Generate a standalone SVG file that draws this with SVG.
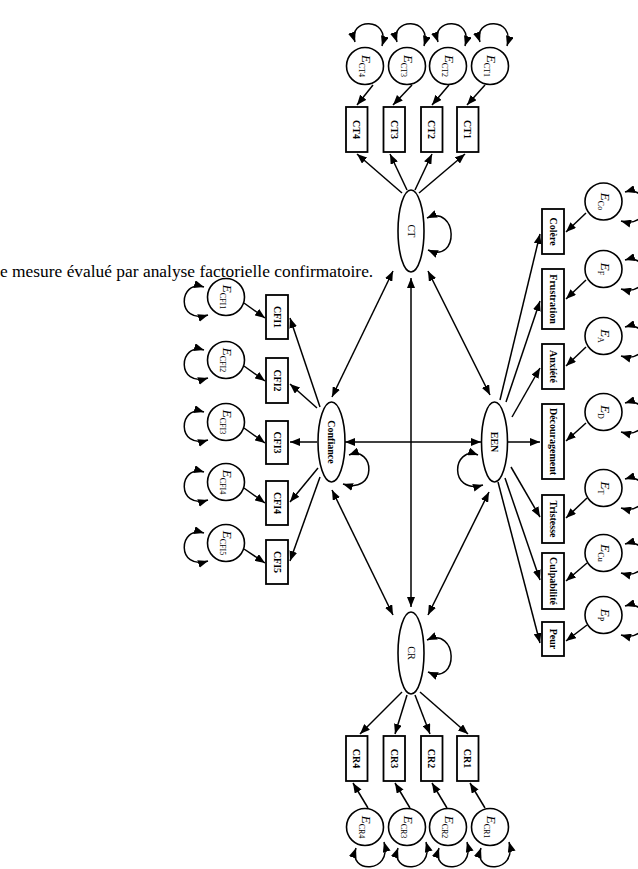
<svg xmlns="http://www.w3.org/2000/svg" width="638" height="869" viewBox="0 0 638 869">
<style>
text{font-family:"Liberation Serif","Times New Roman",serif;fill:#000}
.box rect{fill:#fff;stroke:#000;stroke-width:1.8}
.lat ellipse{fill:#fff;stroke:#000;stroke-width:1.6}
.err circle{fill:#fff;stroke:#000;stroke-width:1.6}
.bt{font-size:10px;font-weight:bold;text-anchor:middle}
.lt{font-size:10px;text-anchor:middle}
.et{font-size:13px;text-anchor:middle}
.et .e{font-style:italic}
.et .s{font-size:8px}
#conn line,#conn path{stroke:#000;stroke-width:1.5;fill:none}
.a{marker-end:url(#ah)}
.d{marker-start:url(#ah);marker-end:url(#ah)}
</style>
<defs>
<marker id="ah" viewBox="0 0 10 8" refX="10" refY="4" markerWidth="10" markerHeight="8" markerUnits="userSpaceOnUse" orient="auto-start-reverse"><path d="M0,0 L10,4 L0,8 z" fill="#000"/></marker>
</defs>
<rect width="638" height="869" fill="#fff"/>
<text x="0" y="277" font-size="17.4">e mesure évalué par analyse factorielle confirmatoire.</text>

<g id="conn">
<line class="d" x1="393" y1="271" x2="332" y2="397"/>
<line class="d" x1="428" y1="271" x2="490" y2="395"/>
<line class="d" x1="411" y1="278" x2="411" y2="607"/>
<line class="d" x1="345" y1="442" x2="481" y2="442"/>
<line class="d" x1="332" y1="490" x2="393" y2="615"/>
<line class="d" x1="489" y1="492" x2="428" y2="615"/>
<path class="d" d="M427,218 C458,204 460,264 428,250"/>
<path class="d" d="M427,640 C458,626 460,686 428,672"/>
<path class="d" d="M349,455 C375,445 378,495 343,484"/>
<path class="d" d="M478,455 C452,445 448,495 483,485"/>
<line class="a" x1="402" y1="193" x2="357" y2="154"/>
<line class="a" x1="407" y1="190" x2="390" y2="154"/>
<line class="a" x1="415" y1="190" x2="432" y2="154"/>
<line class="a" x1="419" y1="193" x2="465" y2="154"/>
<line class="a" x1="402" y1="692" x2="360" y2="734"/>
<line class="a" x1="407" y1="695" x2="395" y2="734"/>
<line class="a" x1="415" y1="695" x2="430" y2="734"/>
<line class="a" x1="420" y1="692" x2="468" y2="734"/>
<line class="a" x1="320" y1="407" x2="290" y2="318"/>
<line class="a" x1="317" y1="408" x2="290" y2="384"/>
<line class="a" x1="317" y1="442" x2="290" y2="442"/>
<line class="a" x1="318" y1="468" x2="290" y2="502"/>
<line class="a" x1="320" y1="477" x2="290" y2="561"/>
<line class="a" x1="500" y1="400" x2="540" y2="234"/>
<line class="a" x1="506" y1="402" x2="540" y2="301"/>
<line class="a" x1="512" y1="417" x2="540" y2="368"/>
<line class="a" x1="508" y1="442" x2="540" y2="442"/>
<line class="a" x1="511" y1="467" x2="540" y2="517"/>
<line class="a" x1="505" y1="478" x2="540" y2="580"/>
<line class="a" x1="498" y1="482" x2="540" y2="643"/>
<line class="a" x1="373" y1="85" x2="357" y2="105"/>
<line class="a" x1="412" y1="85" x2="393" y2="105"/>
<line class="a" x1="449" y1="85" x2="432" y2="105"/>
<line class="a" x1="485" y1="85" x2="467" y2="105"/>
<line class="a" x1="368" y1="808" x2="353" y2="783"/>
<line class="a" x1="410" y1="808" x2="395" y2="783"/>
<line class="a" x1="447" y1="808" x2="432" y2="783"/>
<line class="a" x1="485" y1="808" x2="470" y2="783"/>
<line class="a" x1="244" y1="303" x2="265" y2="318"/>
<line class="a" x1="244" y1="366" x2="265" y2="381"/>
<line class="a" x1="244" y1="428" x2="265" y2="443"/>
<line class="a" x1="244" y1="488" x2="265" y2="503"/>
<line class="a" x1="244" y1="549" x2="265" y2="563"/>
<line class="a" x1="586" y1="213" x2="566" y2="232"/>
<line class="a" x1="586" y1="280" x2="566" y2="299"/>
<line class="a" x1="586" y1="347" x2="566" y2="366"/>
<line class="a" x1="586" y1="423" x2="566" y2="441"/>
<line class="a" x1="587" y1="498" x2="566" y2="518"/>
<line class="a" x1="587" y1="563" x2="566" y2="581"/>
<line class="a" x1="587" y1="625" x2="566" y2="641"/>
<path class="d" d="M355,42 C347,18 391,16 382,46"/>
<path class="d" d="M397,42 C389,18 433,16 424,46"/>
<path class="d" d="M438,42 C430,18 474,16 465,46"/>
<path class="d" d="M480,42 C472,18 516,16 507,46"/>
<path class="d" d="M356,848 C347,874 393,874 384,842"/>
<path class="d" d="M398,848 C389,874 435,874 426,842"/>
<path class="d" d="M439,848 C430,874 476,874 467,842"/>
<path class="d" d="M481,848 C472,874 518,874 509,842"/>
<path class="d" d="M204,287 C178,279 176,325 208,315"/>
<path class="d" d="M204,350 C178,342 176,388 208,378"/>
<path class="d" d="M204,412 C178,404 176,450 208,440"/>
<path class="d" d="M204,472 C178,464 176,510 208,500"/>
<path class="d" d="M204,533 C178,525 176,571 208,561"/>
<path class="d" d="M625,192 C651,184 653,230 621,221"/>
<path class="d" d="M625,260 C651,252 653,298 621,289"/>
<path class="d" d="M625,327 C651,319 653,365 621,356"/>
<path class="d" d="M625,403 C651,395 653,441 621,432"/>
<path class="d" d="M625,479 C651,471 653,517 621,508"/>
<path class="d" d="M625,544 C651,536 653,582 621,573"/>
<path class="d" d="M625,606 C651,598 653,644 621,635"/>
</g>

<g id="CT" class="lat"><ellipse cx="411" cy="231" rx="13" ry="41"/><text class="lt" transform="translate(411,231) rotate(90)" y="3.5">CT</text></g>
<g id="Confiance" class="lat"><ellipse cx="331.5" cy="442" rx="13.5" ry="40"/><text class="bt" transform="translate(331.5,442) rotate(90)" y="3.5">Confiance</text></g>
<g id="EEN" class="lat"><ellipse cx="494.5" cy="442" rx="13" ry="40"/><text class="bt" transform="translate(494.5,442) rotate(90)" y="3.5">EEN</text></g>
<g id="CR" class="lat"><ellipse cx="411" cy="653" rx="13" ry="41"/><text class="lt" transform="translate(411,653) rotate(90)" y="3.5">CR</text></g>

<g id="CT4" class="box"><rect x="346" y="107" width="21.5" height="45"/><text class="bt" transform="translate(356.75,129.5) rotate(90)" y="3.5">CT4</text></g>
<g id="CT3" class="box"><rect x="383.5" y="107" width="21.5" height="45"/><text class="bt" transform="translate(394.25,129.5) rotate(90)" y="3.5">CT3</text></g>
<g id="CT2" class="box"><rect x="421" y="107" width="21.5" height="45"/><text class="bt" transform="translate(431.75,129.5) rotate(90)" y="3.5">CT2</text></g>
<g id="CT1" class="box"><rect x="457" y="107" width="21.5" height="45"/><text class="bt" transform="translate(467.75,129.5) rotate(90)" y="3.5">CT1</text></g>
<g id="CR4" class="box"><rect x="346" y="736" width="21.5" height="45"/><text class="bt" transform="translate(356.75,758.5) rotate(90)" y="3.5">CR4</text></g>
<g id="CR3" class="box"><rect x="383.5" y="736" width="21.5" height="45"/><text class="bt" transform="translate(394.25,758.5) rotate(90)" y="3.5">CR3</text></g>
<g id="CR2" class="box"><rect x="421" y="736" width="21.5" height="45"/><text class="bt" transform="translate(431.75,758.5) rotate(90)" y="3.5">CR2</text></g>
<g id="CR1" class="box"><rect x="457" y="736" width="21.5" height="45"/><text class="bt" transform="translate(467.75,758.5) rotate(90)" y="3.5">CR1</text></g>
<g id="CFI1" class="box"><rect x="266" y="295" width="22" height="44"/><text class="bt" transform="translate(277,317) rotate(90)" y="3.5">CFI1</text></g>
<g id="CFI2" class="box"><rect x="266" y="358" width="22" height="45"/><text class="bt" transform="translate(277,380.5) rotate(90)" y="3.5">CFI2</text></g>
<g id="CFI3" class="box"><rect x="266" y="421" width="22" height="43"/><text class="bt" transform="translate(277,442.5) rotate(90)" y="3.5">CFI3</text></g>
<g id="CFI4" class="box"><rect x="266" y="481" width="22" height="44"/><text class="bt" transform="translate(277,503) rotate(90)" y="3.5">CFI4</text></g>
<g id="CFI5" class="box"><rect x="266" y="540" width="22" height="44"/><text class="bt" transform="translate(277,562) rotate(90)" y="3.5">CFI5</text></g>
<g id="Colere" class="box"><rect x="542" y="209" width="22" height="45"/><text class="bt" transform="translate(553,231.5) rotate(90)" y="3.5">Colère</text></g>
<g id="Frustration" class="box"><rect x="542" y="269" width="22" height="60"/><text class="bt" transform="translate(553,299) rotate(90)" y="3.5">Frustration</text></g>
<g id="Anxiete" class="box"><rect x="542" y="344" width="22" height="45"/><text class="bt" transform="translate(553,366.5) rotate(90)" y="3.5">Anxiété</text></g>
<g id="Decouragement" class="box"><rect x="542" y="404" width="22" height="75"/><text class="bt" transform="translate(553,441.5) rotate(90)" y="3.5">Découragement</text></g>
<g id="Tristesse" class="box"><rect x="542" y="495" width="22" height="48"/><text class="bt" transform="translate(553,519) rotate(90)" y="3.5">Tristesse</text></g>
<g id="Culpabilite" class="box"><rect x="542" y="553" width="22" height="56"/><text class="bt" transform="translate(553,581) rotate(90)" y="3.5">Culpabilité</text></g>
<g id="Peur" class="box"><rect x="542" y="622" width="22" height="34"/><text class="bt" transform="translate(553,639) rotate(90)" y="3.5">Peur</text></g>

<g id="E_CT4" class="err"><circle cx="365" cy="66" r="18.5"/><text class="et" transform="translate(365,66) rotate(90)" y="3"><tspan class="e">E</tspan><tspan class="s" dy="3">CT4</tspan></text></g>
<g id="E_CT3" class="err"><circle cx="407" cy="66" r="18.5"/><text class="et" transform="translate(407,66) rotate(90)" y="3"><tspan class="e">E</tspan><tspan class="s" dy="3">CT3</tspan></text></g>
<g id="E_CT2" class="err"><circle cx="448" cy="66" r="18.5"/><text class="et" transform="translate(448,66) rotate(90)" y="3"><tspan class="e">E</tspan><tspan class="s" dy="3">CT2</tspan></text></g>
<g id="E_CT1" class="err"><circle cx="490" cy="66" r="18.5"/><text class="et" transform="translate(490,66) rotate(90)" y="3"><tspan class="e">E</tspan><tspan class="s" dy="3">CT1</tspan></text></g>
<g id="E_CR4" class="err"><circle cx="365" cy="827" r="18.5"/><text class="et" transform="translate(365,827) rotate(90)" y="3"><tspan class="e">E</tspan><tspan class="s" dy="3">CR4</tspan></text></g>
<g id="E_CR3" class="err"><circle cx="407" cy="827" r="18.5"/><text class="et" transform="translate(407,827) rotate(90)" y="3"><tspan class="e">E</tspan><tspan class="s" dy="3">CR3</tspan></text></g>
<g id="E_CR2" class="err"><circle cx="448" cy="827" r="18.5"/><text class="et" transform="translate(448,827) rotate(90)" y="3"><tspan class="e">E</tspan><tspan class="s" dy="3">CR2</tspan></text></g>
<g id="E_CR1" class="err"><circle cx="490" cy="827" r="18.5"/><text class="et" transform="translate(490,827) rotate(90)" y="3"><tspan class="e">E</tspan><tspan class="s" dy="3">CR1</tspan></text></g>
<g id="E_CFI1" class="err"><circle cx="226" cy="297" r="18.5"/><text class="et" transform="translate(226,297) rotate(90)" y="3"><tspan class="e">E</tspan><tspan class="s" dy="3">CFI1</tspan></text></g>
<g id="E_CFI2" class="err"><circle cx="226" cy="360" r="18.5"/><text class="et" transform="translate(226,360) rotate(90)" y="3"><tspan class="e">E</tspan><tspan class="s" dy="3">CFI2</tspan></text></g>
<g id="E_CFI3" class="err"><circle cx="226" cy="422" r="18.5"/><text class="et" transform="translate(226,422) rotate(90)" y="3"><tspan class="e">E</tspan><tspan class="s" dy="3">CFI3</tspan></text></g>
<g id="E_CFI4" class="err"><circle cx="226" cy="482" r="18.5"/><text class="et" transform="translate(226,482) rotate(90)" y="3"><tspan class="e">E</tspan><tspan class="s" dy="3">CFI4</tspan></text></g>
<g id="E_CFI5" class="err"><circle cx="226" cy="543" r="18.5"/><text class="et" transform="translate(226,543) rotate(90)" y="3"><tspan class="e">E</tspan><tspan class="s" dy="3">CFI5</tspan></text></g>
<g id="E_Co" class="err"><circle cx="603.5" cy="201.5" r="18.5"/><text class="et" transform="translate(603.5,201.5) rotate(90)" y="3"><tspan class="e">E</tspan><tspan class="s" dy="3">Co</tspan></text></g>
<g id="E_F" class="err"><circle cx="603.5" cy="269" r="18.5"/><text class="et" transform="translate(603.5,269) rotate(90)" y="3"><tspan class="e">E</tspan><tspan class="s" dy="3">F</tspan></text></g>
<g id="E_A" class="err"><circle cx="603.5" cy="336" r="18.5"/><text class="et" transform="translate(603.5,336) rotate(90)" y="3"><tspan class="e">E</tspan><tspan class="s" dy="3">A</tspan></text></g>
<g id="E_D" class="err"><circle cx="603.5" cy="412" r="18.5"/><text class="et" transform="translate(603.5,412) rotate(90)" y="3"><tspan class="e">E</tspan><tspan class="s" dy="3">D</tspan></text></g>
<g id="E_T" class="err"><circle cx="603.5" cy="488" r="18.5"/><text class="et" transform="translate(603.5,488) rotate(90)" y="3"><tspan class="e">E</tspan><tspan class="s" dy="3">T</tspan></text></g>
<g id="E_Cu" class="err"><circle cx="603.5" cy="553" r="18.5"/><text class="et" transform="translate(603.5,553) rotate(90)" y="3"><tspan class="e">E</tspan><tspan class="s" dy="3">Cu</tspan></text></g>
<g id="E_P" class="err"><circle cx="603.5" cy="615" r="18.5"/><text class="et" transform="translate(603.5,615) rotate(90)" y="3"><tspan class="e">E</tspan><tspan class="s" dy="3">P</tspan></text></g>
</svg>
